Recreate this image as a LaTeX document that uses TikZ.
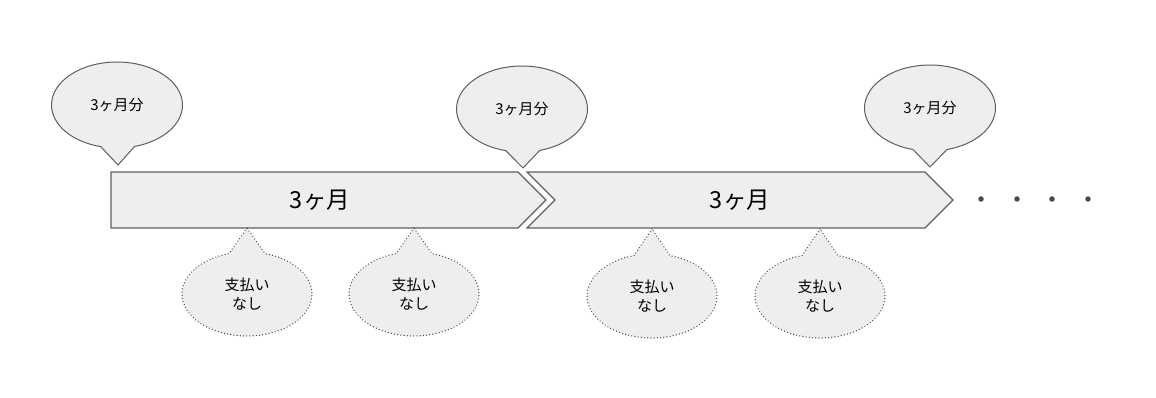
\documentclass[tikz,border=0pt]{standalone}
\usepackage{fontspec}
\setmainfont{Noto Sans CJK JP}
\usetikzlibrary{shapes.callouts}
\definecolor{shapefill}{HTML}{EEEEEE}
\definecolor{shapeline}{HTML}{5F5F5F}
\definecolor{dotcol}{HTML}{4A4A4A}
\tikzset{
  chevronbox/.style={fill=shapefill, draw=shapeline, line width=1.2pt, line join=miter},
  topcallout/.style={ellipse callout, fill=shapefill, draw=shapeline, line width=1pt,
    minimum width=131pt, minimum height=86pt, inner sep=0pt, callout pointer arc=30,
    font=\fontsize{15}{18}\selectfont, align=center},
  botcallout/.style={ellipse callout, fill=shapefill, draw=dotcol, line width=1.4pt,
    dash pattern=on 0.01pt off 3.2pt, line cap=round,
    minimum width=130pt, minimum height=84pt, inner sep=0pt, callout pointer arc=32,
    font=\fontsize{15}{19}\selectfont, align=center},
  bigtext/.style={font=\fontsize{23.5}{27}\selectfont},
  ellipsisdot/.style={circle, fill=dotcol, inner sep=0pt, minimum size=5.5pt},
}
\begin{document}
\begin{tikzpicture}[x=1pt,y=-1pt]
\useasboundingbox (0,0) rectangle (1156,398);
% chevrons
\draw[chevronbox] (111,172) -- (518,172) -- (546,200) -- (518,228) -- (111,228) -- cycle;
\draw[chevronbox] (527,172) -- (925,172) -- (953,200) -- (925,228) -- (527,228) -- (555,200) -- cycle;
\node[bigtext] (m1) at (320,200) {3ヶ月};
\node[bigtext] (m2) at (740,200) {3ヶ月};
% top callouts
\node[topcallout, callout absolute pointer={(118,165)}] (t1) at (117,105) {3ヶ月分};
\node[topcallout, callout absolute pointer={(523,168)}] (t2) at (522,109) {3ヶ月分};
\node[topcallout, callout absolute pointer={(930,167)}] (t3) at (930,108) {3ヶ月分};
% bottom callouts
\node[botcallout, callout absolute pointer={(247,228)}] (b1) at (247,294) {支払い\\なし};
\node[botcallout, callout absolute pointer={(414,228)}] (b2) at (414,294) {支払い\\なし};
\node[botcallout, callout absolute pointer={(652,229)}] (b3) at (652,296) {支払い\\なし};
\node[botcallout, callout absolute pointer={(820,229)}] (b4) at (820,296) {支払い\\なし};
% ellipsis dots
\node[ellipsisdot] (d1) at (981,199) {};
\node[ellipsisdot] (d2) at (1017,199) {};
\node[ellipsisdot] (d3) at (1052,199) {};
\node[ellipsisdot] (d4) at (1088,199) {};
\end{tikzpicture}
\end{document}
